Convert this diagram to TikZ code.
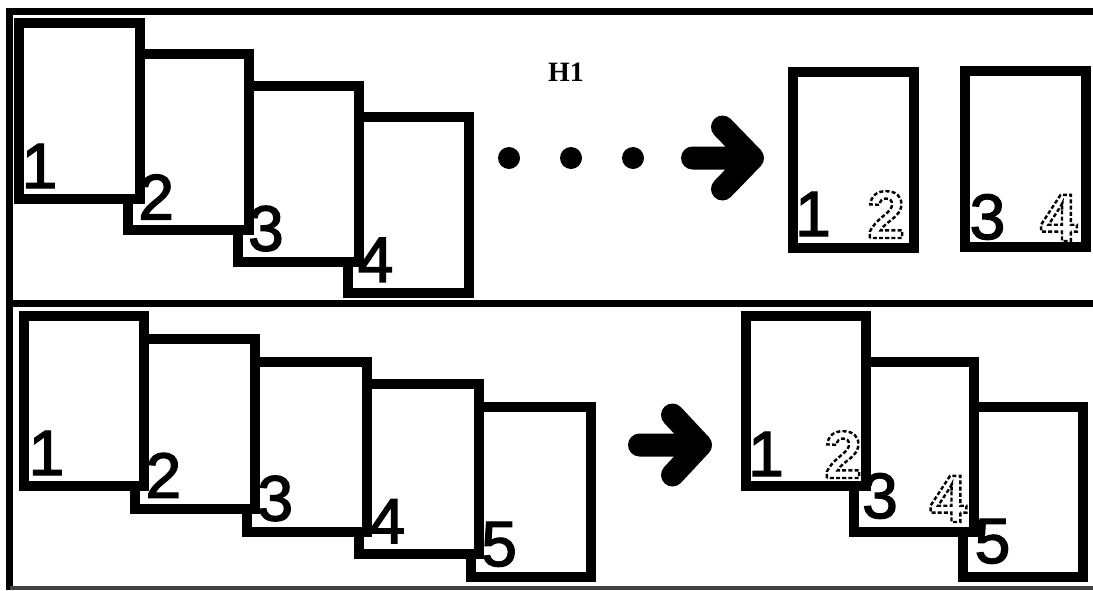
\documentclass[tikz,border=0pt]{standalone}
\usepackage{fontspec}
\setmainfont{Liberation Sans}
\newfontfamily\headfont{Liberation Serif}
\usetikzlibrary{calc}

\makeatletter
% digit with a thin extra stroke, to make it heavier
\newcommand{\solid}[1]{\pgfsys@invoke{2 Tr 1.4 w}#1\pgfsys@invoke{0 Tr}}
% hollow digit, its outline stroked with a dashed line
\newcommand{\hollow}[1]{\pgfsys@invoke{1 Tr [4 2.2] 0 d 2.4 w}#1\pgfsys@invoke{0 Tr [] 0 d}}
\makeatother

\tikzset{
  page/.style={rectangle, draw, fill=white, line width=10pt, minimum width=121pt, minimum height=176pt, inner sep=0pt},
  lowpage/.style={page, minimum width=120pt, minimum height=170pt},
  digit/.style={font=\fontsize{64}{64}\selectfont, inner sep=0pt, anchor=base west},
  ghost/.style={font=\fontsize{67}{67}\selectfont\bfseries, inner sep=0pt, anchor=base east},
  dot/.style={circle, fill, inner sep=0pt, minimum size=22pt},
  fatarrow/.style={line width=23pt, line cap=round, line join=round}
}

\begin{document}
\begin{tikzpicture}[x=1pt, y=-1pt]
\useasboundingbox (0,0) rectangle (1093,590);

% frame and divider
\draw[line width=6.5pt] (9.5,590) -- (9.5,11.5) -- (1093,11.5);
\draw[line width=7pt] (9.5,303) -- (1093,303);
\draw[line width=4pt, black!75] (9.5,588) -- (1093,588);

% upper stack, back to front
\foreach \i in {4,3,2,1} {
    \node[page] (up\i) at ({79+109.7*(\i-1)}, {111+31.3*(\i-1)}) {};
}
\foreach \i in {1,...,4} {
    \pgfmathsetmacro\dx{ifthenelse(\i==1,8,15)}
    \node[digit] (upn\i) at ($(up\i.south west)+(\dx,-16)$) {\solid{\i}};
}

% the dots, the arrow and H1
\foreach \x [count=\k] in {509,571,633} {
    \node[dot] (dot\k) at (\x,158) {};
}
\node[font=\headfont\bfseries\fontsize{28}{28}\selectfont] (h1) at (566,72) {H1};
\coordinate (tipup) at (752.5,158);
\draw[fatarrow] ($(tipup)+(-60,0)$) -- (tipup)
    ($(tipup)+(-30,-31)$) -- (tipup) -- ($(tipup)+(-30,31)$);

% upper result
\node[page] (pa) at (853.5,160) {};
\node[page] (pb) at (1025,159) {};
\node[digit] (pan) at ($(pa.south west)+(7,-17)$) {\solid{1}};
\node[ghost] (pag) at ($(pa.south east)+(-14,-15)$) {\hollow{2}};
\node[digit] (pbn) at ($(pb.south west)+(10,-13)$) {\solid{3}};
\node[ghost] (pbg) at ($(pb.south east)+(-13,-11)$) {\hollow{4}};

% lower stack, back to front
\foreach \i in {5,4,3,2,1} {
    \node[lowpage] (lo\i) at ({83.5+111.9*(\i-1)}, {401+22.75*(\i-1)}) {};
}
\foreach \i in {1,...,5} {
    \pgfmathsetmacro\dx{ifthenelse(\i==1,10,15)}
    \node[digit] (lon\i) at ($(lo\i.south west)+(\dx,-16)$) {\solid{\i}};
}

% lower arrow
\coordinate (tiplo) at (700.5,445);
\draw[fatarrow] ($(tiplo)+(-61,0)$) -- (tiplo)
    ($(tiplo)+(-28,-30)$) -- (tiplo) -- ($(tiplo)+(-28,30)$);

% lower result
\node[lowpage] (pe) at (1022.5,492) {};
\node[lowpage] (pd) at (914,447) {};
\node[lowpage] (pc) at (806,401) {};
\node[digit] (pcn) at ($(pc.south west)+(7,-15)$) {\solid{1}};
\node[ghost] (pcg) at ($(pc.south east)+(-9,-13)$) {\hollow{2}};
\node[digit] (pdn) at ($(pd.south west)+(13,-19)$) {\solid{3}};
\node[ghost] (pdg) at ($(pd.south east)+(-12,-15)$) {\hollow{4}};
\node[digit] (pen) at ($(pe.south west)+(17,-19)$) {\solid{5}};
\end{tikzpicture}
\end{document}
